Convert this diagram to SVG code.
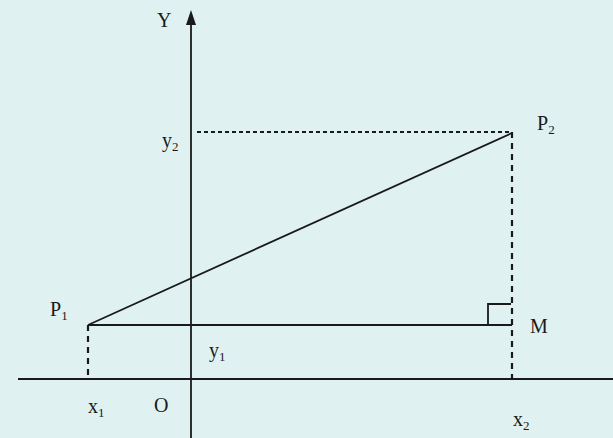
<svg xmlns="http://www.w3.org/2000/svg" width="613" height="438" viewBox="0 0 613 438">
<style>
text{font-family:"Liberation Serif","Times New Roman",serif;font-size:20px;fill:#1a1a1a}
.sub{font-size:13px}
.ln{stroke:#1a1a1a;stroke-width:1.8;fill:none}
.dh{stroke:#1a1a1a;stroke-width:1.8;stroke-dasharray:4 3;fill:none}
.dv{stroke:#1a1a1a;stroke-width:2.2;stroke-dasharray:6 5;fill:none}
</style>
<rect width="613" height="438" fill="#dff2f1"/>
<g id="connectors">
<line id="x-axis" class="ln" x1="18" y1="379" x2="613" y2="379"/>
<line id="y-axis" class="ln" x1="191" y1="22" x2="191" y2="438"/>
<polygon points="191,10 186,25 196,25" fill="#1a1a1a"/>
<line class="dh" x1="197" y1="132" x2="510" y2="132"/>
<line class="dv" x1="512" y1="132" x2="512" y2="379"/>
<line class="dv" x1="88" y1="325" x2="88" y2="379"/>
<line class="ln" x1="88" y1="325" x2="512" y2="133"/>
<line class="ln" x1="88" y1="325" x2="512" y2="325"/>
<polyline class="ln" points="488,325 488,304 511,304"/>
</g>
<g id="labels">
<text x="157" y="27">Y</text>
<text x="162" y="147">y<tspan class="sub" dy="4">2</tspan></text>
<text x="537" y="130">P<tspan class="sub" dy="4">2</tspan></text>
<text x="50" y="316">P<tspan class="sub" dy="4">1</tspan></text>
<text x="530" y="333">M</text>
<text x="209" y="357">y<tspan class="sub" dy="4">1</tspan></text>
<text x="88" y="413">x<tspan class="sub" dy="4">1</tspan></text>
<text x="154" y="412">O</text>
<text x="513" y="426">x<tspan class="sub" dy="4">2</tspan></text>
</g>
</svg>
